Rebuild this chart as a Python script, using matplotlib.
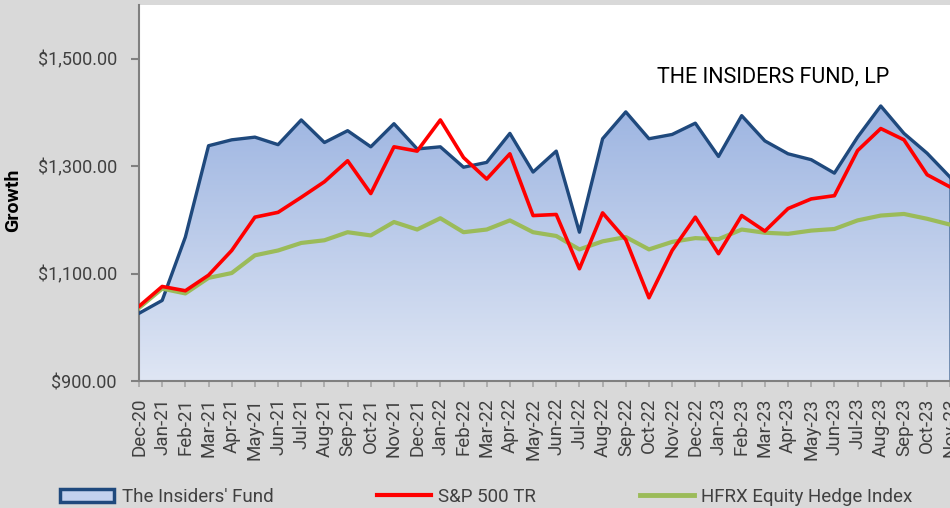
import numpy as np
import matplotlib
matplotlib.use("Agg")
import matplotlib.pyplot as plt
from matplotlib.colors import LinearSegmentedColormap
from matplotlib.patches import Patch
from matplotlib.lines import Line2D

plt.rcParams['font.family'] = ['Roboto', 'DejaVu Sans']

# monthly growth of $1,000
months = ['Dec-20', 'Jan-21', 'Feb-21', 'Mar-21', 'Apr-21', 'May-21', 'Jun-21', 'Jul-21',
          'Aug-21', 'Sep-21', 'Oct-21', 'Nov-21', 'Dec-21', 'Jan-22', 'Feb-22', 'Mar-22',
          'Apr-22', 'May-22', 'Jun-22', 'Jul-22', 'Aug-22', 'Sep-22', 'Oct-22', 'Nov-22',
          'Dec-22', 'Jan-23', 'Feb-23', 'Mar-23', 'Apr-23', 'May-23', 'Jun-23', 'Jul-23',
          'Aug-23', 'Sep-23', 'Oct-23', 'Nov-23']

fund = [1026, 1050, 1168, 1338, 1349, 1354, 1340, 1386, 1344, 1366, 1336, 1379,
        1332, 1336, 1298, 1307, 1361, 1289, 1328, 1177, 1351, 1401, 1351, 1359,
        1380, 1318, 1394, 1347, 1323, 1312, 1287, 1354, 1412, 1361, 1324, 1279]

sp500 = [1039, 1076, 1068, 1097, 1143, 1205, 1214, 1242, 1271, 1310, 1249, 1336,
         1328, 1386, 1316, 1276, 1323, 1208, 1210, 1109, 1213, 1163, 1055, 1143,
         1205, 1137, 1208, 1179, 1221, 1239, 1245, 1329, 1370, 1349, 1284, 1261]

hfrx = [1036, 1072, 1063, 1092, 1101, 1134, 1143, 1157, 1162, 1177, 1171, 1196,
        1182, 1203, 1177, 1182, 1199, 1177, 1170, 1145, 1160, 1168, 1145, 1159,
        1166, 1164, 1182, 1176, 1174, 1180, 1183, 1199, 1208, 1211, 1202, 1191]

yticks = [900, 1100, 1300, 1500]

bg = '#d9d9d9'
navy = '#1f497d'
red = '#ff0000'
green = '#9bbb59'

fig = plt.figure(figsize=(9.5, 5.08), dpi=100, facecolor=bg)
# plot area runs off the right edge of the picture, like the original
ax_w = 36 * 23.18
ax = fig.add_axes([139 / 950, 127 / 508, ax_w / 950, 376 / 508])
ax.set_facecolor('white')

x = np.arange(len(months))

# gradient fill under the fund line
grad = LinearSegmentedColormap.from_list('g', ['#dfe6f4', '#9cb4e1'])
poly = ax.fill_between(x, fund, 900, facecolor='none', edgecolor=navy, linewidth=1.2, zorder=2)
img = ax.imshow(np.linspace(0, 1, 256).reshape(-1, 1), cmap=grad, aspect='auto',
                origin='lower', extent=[0, x[-1], 900, 1420], zorder=1)
img.set_clip_path(poly.get_paths()[0], transform=ax.transData)

ax.plot(x, fund, color=navy, lw=2.4, zorder=3)
ax.plot(x, hfrx, color=green, lw=3.0, zorder=4)
ax.plot(x, sp500, color=red, lw=2.6, zorder=5)

ax.set_xlim(0, 36)
ax.set_ylim(900, 1600)
ax.set_yticks(yticks)
ax.set_yticklabels(['$%s' % format(v, ',.2f') for v in yticks])
ax.set_xticks(x)
ax.set_xticklabels(months, rotation=90)

for s in ['top', 'right']:
    ax.spines[s].set_visible(False)
ax.spines['left'].set_color('#808080')
ax.spines['left'].set_linewidth(1.5)
ax.spines['bottom'].set_color('#808080')
ax.spines['bottom'].set_linewidth(1.5)
ax.tick_params(axis='y', colors='#808080', length=6, width=1.5, labelsize=13,
               labelcolor='#404040', pad=10)
ax.tick_params(axis='x', colors='#a6a6a6', length=4, width=1.2, labelsize=13.5,
               labelcolor='#404040', pad=8)

ax.set_ylabel('Growth', fontsize=14, fontweight='bold', color='black')
ax.yaxis.set_label_coords(-117 / ax_w, 0.48)

fig.text(657 / 950, 1 - 77 / 508, 'THE INSIDERS FUND, LP', fontsize=15.5, color='black',
         ha='left', va='center')

handles = [Patch(facecolor='#c3d1ee', edgecolor=navy, linewidth=2.5),
           Line2D([], [], color=red, lw=3),
           Line2D([], [], color=green, lw=3.5)]
labels = ["The Insiders' Fund", 'S&P 500 TR', 'HFRX Equity Hedge Index']
fig.legend(handles, labels, loc='center left', bbox_to_anchor=(43 / 950, 1 - 497 / 508),
           ncol=3, frameon=False, fontsize=13.5, handlelength=2.9, handletextpad=0.4,
           columnspacing=5.5, labelcolor='#404040')

fig.savefig('out.png', dpi=100, facecolor=bg)
